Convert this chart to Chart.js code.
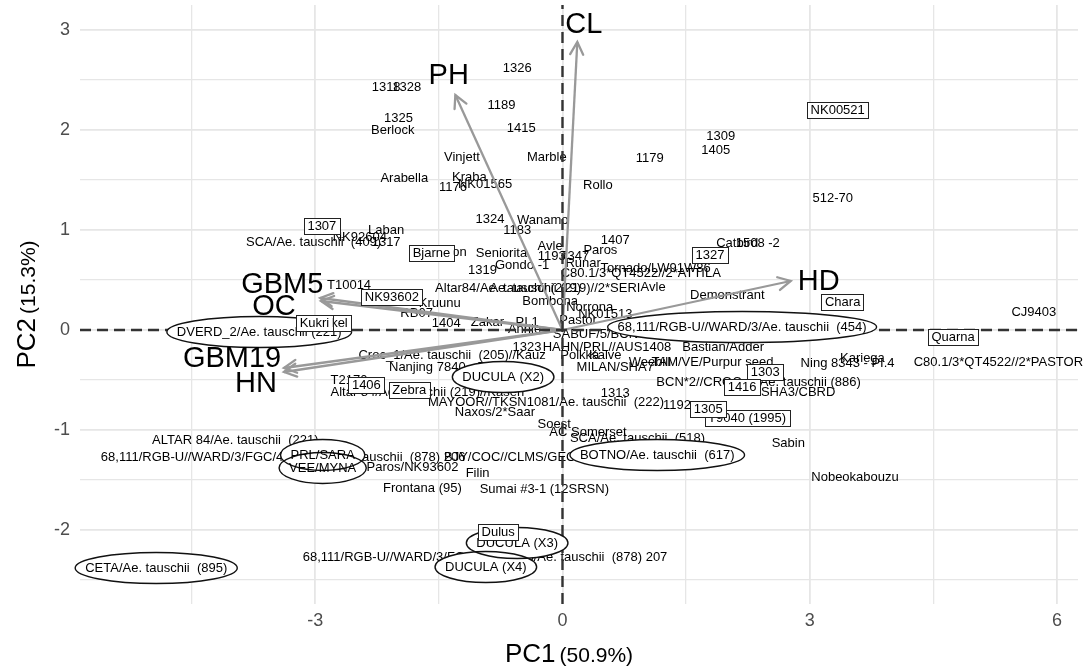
<!DOCTYPE html>
<html><head><meta charset="utf-8">
<style>html,body{margin:0;padding:0;background:#fff;}canvas{display:block;}</style>
<script src="https://cdn.jsdelivr.net/npm/chart.js@4.4.1/dist/chart.umd.min.js"></script>
</head><body>
<canvas id="c" width="1086" height="668"></canvas>
<script>
// ---- data ----
const genotypes = [
"1326","1318","1328","1189","1325","Berlock","1415","Vinjett","Marble","Arabella",
"Kraba","1176","NK01565","Rollo","1179","1309","1405","512-70","1324","Wanamo",
"1183","Laban","NK92604","SCA/Ae. tauschii  (409)","1317","Brandon","Seniorita","1319","Gondo -1","Avle",
"1193","7347","Runar","Paros","1407","Catbird","1508 -2","T10014","Tornado/LW91W86","C80.1/3*QT4522//2*ATTILA",
"Altar84/Ae. tauschii (219)","Ae. tauschii (219)//2*SERI","Avle","Bombona","Kruunu","RB07","1404","Zakar - PI.1","Annie","SABUF/5/BCN",
"Norrona","NK01513","Pastor","Demonstrant","1323","HAHN/PRL//AUS1408","Bastian/Adder","Croc_1/Ae. tauschii  (205)//Kauz","Polkka","Kalve",
"MILAN/SHA7","Nanjing 7840 - PI.1","Weebill","TAM/VE/Purpur seed","Ning 8343 - PI.4","Kariega","C80.1/3*QT4522//2*PASTOR","CJ9403","BCN*2//CROC_1/Ae. tauschii (886)","SHA3/CBRD",
"1313","1192","T2170","Altar 84/Ae. tauschii (219)//Kasen","MAYOOR//TKSN1081/Ae. tauschii  (222)","Naxos/2*Saar","Soest","AC Somerset","SCA/Ae. tauschii  (518)","Sabin",
"Nobeokabouzu","ALTAR 84/Ae. tauschii  (221)","68,111/RGB-U//WARD/3/FGC/4/Sabuf/5/Ae. tauschii  (878) 206","BJY/COC//CLMS/GEC","Paros/NK93602","Filin","Frontana (95)","Sumai #3-1 (12SRSN)","68,111/RGB-U//WARD/3/FGC/4/Sabuf/5/Ae. tauschii  (878) 207",
// ringed
"DVERD_2/Ae. tauschii (221)","68,111/RGB-U//WARD/3/Ae. tauschii  (454)","DUCULA (X2)","BOTNO/Ae. tauschii  (617)","PRL/SARA","VEE/MYNA","DUCULA (X3)","DUCULA (X4)","CETA/Ae. tauschii  (895)",
// boxed
"NK00521","1307","Bjarne","NK93602","Mirakel","Kukri","1327","Chara","Quarna","1303",
"1416","T9040 (1995)","1305","1406","Zebra","Dulus"
];
const pc1 = [
-0.55,-2.14,-1.89,-0.74,-1.99,-2.06,-0.50,-1.22,-0.19,-1.92,
-1.13,-1.33,-0.94,0.43,1.06,1.92,1.86,3.28,-0.88,-0.24,
-0.55,-2.14,-2.46,-3.02,-2.14,-1.46,-0.74,-0.97,-0.49,-0.15,
-0.13,0.15,0.25,0.46,0.64,2.12,2.37,-2.59,1.13,0.95,
-0.66,0.03,1.10,-0.15,-1.49,-1.77,-1.41,-0.70,-0.46,0.40,
0.33,0.52,0.19,2.00,-0.43,0.54,1.95,-1.34,0.21,0.52,
0.64,-1.43,1.06,1.82,3.46,3.64,5.29,5.72,2.38,2.86,
0.64,1.39,-2.59,-1.64,-0.20,-0.82,-0.10,0.31,0.91,2.74,
3.55,-3.97,-3.39,-0.64,-1.82,-1.03,-1.70,-0.22,-0.94,
-3.68,2.18,-0.72,1.15,-2.91,-2.91,-0.55,-0.93,-4.93,
3.34,-2.92,-1.59,-2.07,-2.86,-3.01,1.79,3.40,4.74,2.46,
2.18,2.24,1.77,-2.38,-1.86,-0.78
];
const pc2 = [
2.62,2.43,2.43,2.25,2.12,2.00,2.02,1.73,1.73,1.52,
1.53,1.43,1.46,1.45,1.72,1.94,1.80,1.32,1.11,1.10,
1.00,1.00,0.93,0.88,0.88,0.78,0.77,0.60,0.65,0.84,
0.74,0.74,0.67,0.80,0.90,0.87,0.87,0.45,0.62,0.57,
0.42,0.42,0.43,0.29,0.27,0.17,0.07,0.08,0.01,-0.04,
0.23,0.16,0.10,0.35,-0.17,-0.17,-0.17,-0.25,-0.25,-0.25,
-0.37,-0.37,-0.32,-0.32,-0.33,-0.28,-0.32,0.18,-0.52,-0.62,
-0.63,-0.75,-0.50,-0.62,-0.72,-0.82,-0.94,-1.02,-1.08,-1.13,
-1.47,-1.10,-1.27,-1.27,-1.37,-1.43,-1.58,-1.59,-2.27,
-0.02,0.03,-0.47,-1.25,-1.25,-1.38,-2.13,-2.37,-2.38,
2.20,1.04,0.77,0.33,0.07,0.07,0.75,0.28,-0.07,-0.42,
-0.57,-0.88,-0.79,-0.55,-0.60,-2.02
];
const ringedGenotypes = ["DVERD_2/Ae. tauschii (221)","68,111/RGB-U//WARD/3/Ae. tauschii  (454)","DUCULA (X2)","BOTNO/Ae. tauschii  (617)","PRL/SARA","VEE/MYNA","DUCULA (X3)","DUCULA (X4)","CETA/Ae. tauschii  (895)"];
const boxedGenotypes = ["NK00521","1307","Bjarne","NK93602","Mirakel","Kukri","1327","Chara","Quarna","1303","1416","T9040 (1995)","1305","1406","Zebra","Dulus"];

const variables = ["CL","PH","HD","GBM5","OC","GBM19","HN"];
const loadPC1 = [0.18,-1.30,2.77,-2.94,-2.93,-3.38,-3.38];
const loadPC2 = [2.88,2.35,0.49,0.32,0.29,-0.38,-0.42];
const varLabelPC1 = [0.26,-1.38,3.11,-3.40,-3.50,-4.01,-3.72];
const varLabelPC2 = [3.05,2.54,0.48,0.45,0.23,-0.29,-0.54];

const xGrid = [-4.5,-3,-1.5,0,1.5,3,4.5,6];
const xLabelled = [-3,0,3,6];
const yGrid = [-2.5,-2,-1.5,-1,-0.5,0,0.5,1,1.5,2,2.5,3];
const yLabelled = [-2,-1,0,1,2,3];
const xMin = -5.855, xMax = 6.256, yMin = -2.74, yMax = 3.25;
const xTitle = ["PC1", "(50.9%)"];
const yTitle = ["PC2", "(15.3%)"];

// ---- drawing ----
const FONT = '"Liberation Sans", Arial, Helvetica, sans-serif';
const ARROW_START = 3;

const labelPlugin = {
  id: 'biplotLabels',
  beforeDatasetsDraw(chart) {
    const ctx = chart.ctx;
    const pts = chart.getDatasetMeta(0).data;
    ctx.save();
    ctx.font = '13px ' + FONT;
    ctx.fillStyle = '#000';
    ctx.textAlign = 'center';
    ctx.textBaseline = 'middle';
    genotypes.forEach((g, i) => {
      if (ringedGenotypes.includes(g) || boxedGenotypes.includes(g)) return;
      ctx.fillText(g, pts[i].x, pts[i].y);
    });
    ctx.restore();
  },
  afterDatasetsDraw(chart) {
    const ctx = chart.ctx;
    const pts = chart.getDatasetMeta(0).data;
    ctx.save();
    ctx.font = '13px ' + FONT;
    ctx.textAlign = 'center';
    ctx.textBaseline = 'middle';
    // ellipses
    const ringIdx = genotypes.map((g,i)=>i).filter(i => ringedGenotypes.includes(genotypes[i]));
    const ell = ringIdx.map(i => ({i, rx: ctx.measureText(genotypes[i]).width/2 + 10, ry: 15.5}));
    ctx.fillStyle = '#fff';
    ell.forEach(e => { ctx.beginPath(); ctx.ellipse(pts[e.i].x, pts[e.i].y, e.rx, e.ry, 0, 0, Math.PI*2); ctx.fill(); });
    ctx.strokeStyle = '#111'; ctx.lineWidth = 1.4;
    ell.forEach(e => { ctx.beginPath(); ctx.ellipse(pts[e.i].x, pts[e.i].y, e.rx, e.ry, 0, 0, Math.PI*2); ctx.stroke(); });
    ctx.fillStyle = '#000';
    ell.forEach(e => ctx.fillText(genotypes[e.i], pts[e.i].x, pts[e.i].y));
    // boxes
    genotypes.forEach((g, i) => {
      if (!boxedGenotypes.includes(g)) return;
      const w = ctx.measureText(g).width + 7, h = 16;
      const x = pts[i].x - w/2, y = pts[i].y - h/2;
      ctx.fillStyle = '#fff';
      ctx.fillRect(x, y, w, h);
      ctx.strokeStyle = '#222'; ctx.lineWidth = 1;
      ctx.strokeRect(Math.round(x)+0.5, Math.round(y)+0.5, Math.round(w), Math.round(h));
      ctx.fillStyle = '#000';
      ctx.fillText(g, pts[i].x, pts[i].y + 0.5);
    });
    // arrowheads
    ctx.strokeStyle = '#999'; ctx.lineWidth = 2.3; ctx.lineCap = 'round';
    variables.forEach((v, k) => {
      const d = chart.getDatasetMeta(ARROW_START + k).data;
      const x0 = d[0].x, y0 = d[0].y, x1 = d[1].x, y1 = d[1].y;
      const a = Math.atan2(y1 - y0, x1 - x0), L = 14, sp = Math.PI/6.5;
      ctx.beginPath();
      ctx.moveTo(x1 - L*Math.cos(a - sp), y1 - L*Math.sin(a - sp));
      ctx.lineTo(x1, y1);
      ctx.lineTo(x1 - L*Math.cos(a + sp), y1 - L*Math.sin(a + sp));
      ctx.stroke();
    });
    // variable labels
    const vl = chart.getDatasetMeta(ARROW_START + variables.length).data;
    ctx.font = '29px ' + FONT;
    ctx.fillStyle = '#000';
    variables.forEach((v, k) => ctx.fillText(v, vl[k].x, vl[k].y));
    ctx.restore();
  },
  afterDraw(chart) {
    const ctx = chart.ctx, ca = chart.chartArea;
    const f1 = '26px ' + FONT, f2 = '21px ' + FONT, gap = 4;
    function drawTitle(parts) {
      ctx.font = f1; const w1 = ctx.measureText(parts[0]).width;
      ctx.font = f2; const w2 = ctx.measureText(parts[1]).width;
      const tot = w1 + gap + w2;
      ctx.font = f1; ctx.fillText(parts[0], -tot/2, 0);
      ctx.font = f2; ctx.fillText(parts[1], -tot/2 + w1 + gap, 0);
    }
    ctx.save();
    ctx.fillStyle = '#000'; ctx.textBaseline = 'alphabetic'; ctx.textAlign = 'left';
    ctx.translate((ca.left + ca.right)/2 - 10, 662);
    drawTitle(xTitle);
    ctx.restore();
    ctx.save();
    ctx.fillStyle = '#000'; ctx.textBaseline = 'alphabetic'; ctx.textAlign = 'left';
    ctx.translate(35, (ca.top + ca.bottom)/2);
    ctx.rotate(-Math.PI/2);
    drawTitle(yTitle);
    ctx.restore();
  }
};

const datasets = [
  { data: genotypes.map((g,i)=>({x:pc1[i], y:pc2[i]})), pointRadius:0, pointHoverRadius:0 },
  { data: [{x:xMin,y:0},{x:xMax,y:0}], showLine:true, borderColor:'#333', borderWidth:2.4, borderDash:[11,6], pointRadius:0 },
  { data: [{x:0,y:yMin},{x:0,y:yMax}], showLine:true, borderColor:'#333', borderWidth:2.4, borderDash:[11,6], pointRadius:0 },
  ...variables.map((v,k)=>({ data:[{x:0,y:0},{x:loadPC1[k],y:loadPC2[k]}], showLine:true, borderColor:'#999', borderWidth:2.3, pointRadius:0 })),
  { data: variables.map((v,k)=>({x:varLabelPC1[k], y:varLabelPC2[k]})), pointRadius:0 }
];

const gridWidth = (vals) => (ctx) => (ctx.tick && vals.includes(ctx.tick.value)) ? 1.8 : 1.3;

new Chart(document.getElementById('c'), {
  type: 'scatter',
  data: { datasets },
  plugins: [labelPlugin],
  options: {
    responsive: false, animation: false, devicePixelRatio: 1, events: [],
    layout: { padding: { top: 5, right: 8, left: 0, bottom: 0 } },
    plugins: { legend: { display: false }, tooltip: { enabled: false } },
    scales: {
      x: {
        type: 'linear', min: xMin, max: xMax,
        afterBuildTicks: s => { s.ticks = xGrid.map(v => ({ value: v })); },
        afterFit: s => { s.height = 64; s.paddingLeft = 0; s.paddingRight = 0; },
        ticks: { font: { size: 18, family: FONT }, color: '#4d4d4d', padding: 6, maxRotation: 0, autoSkip: false,
                 callback: v => xLabelled.includes(v) ? String(v) : '' },
        grid: { color: '#e6e6e6', lineWidth: gridWidth(xLabelled), drawTicks: false },
        border: { display: false }
      },
      y: {
        type: 'linear', min: yMin, max: yMax,
        afterBuildTicks: s => { s.ticks = yGrid.map(v => ({ value: v })); },
        afterFit: s => { s.width = 80; s.paddingTop = 0; s.paddingBottom = 0; },
        ticks: { font: { size: 18, family: FONT }, color: '#4d4d4d', padding: 10, autoSkip: false,
                 callback: v => yLabelled.includes(v) ? String(v) : '' },
        grid: { color: '#e6e6e6', lineWidth: gridWidth(yLabelled), drawTicks: false },
        border: { display: false }
      }
    }
  }
});
</script></body></html>
